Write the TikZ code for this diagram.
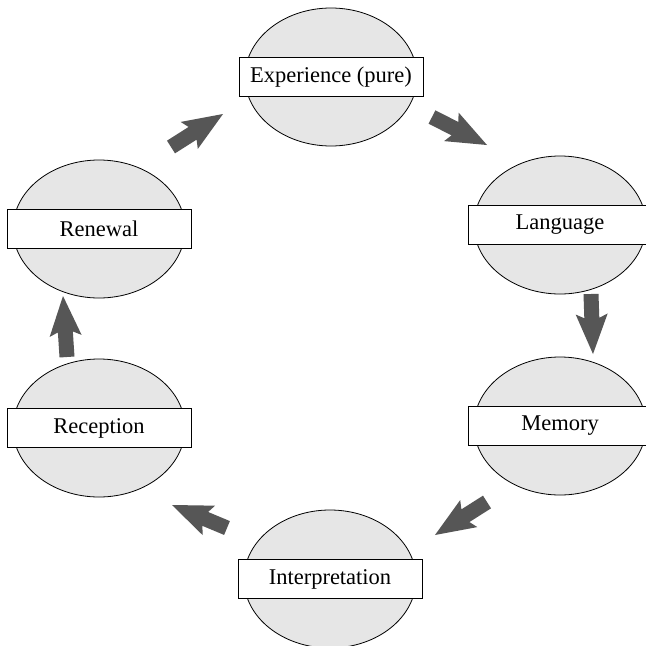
\documentclass[tikz,border=0pt]{standalone}
\usepackage{fontspec}
\setmainfont{Liberation Serif}
\usetikzlibrary{shapes.geometric,calc}
\definecolor{ellgray}{HTML}{E6E6E6}
\definecolor{arrowgray}{HTML}{565656}
\tikzset{
  oval/.style={ellipse, draw=black, line width=0.8pt, fill=ellgray, minimum width=172pt, minimum height=138pt, inner sep=0pt},
  labelbox/.style={draw=black, line width=1pt, fill=white, minimum width=184pt, minimum height=39pt, inner sep=0pt, font=\fontsize{22.5}{27}\selectfont},
  fatarrow/.style={fill=arrowgray, draw=none}
}
\newcommand\blockarrow[2]{%
  \path[fatarrow] (#2)
    -- ($(#2)!40pt!(#1)!16pt!90:(#1)$)
    -- ($(#2)!36pt!(#1)!7.5pt!90:(#1)$)
    -- ($(#1)!7.5pt!-90:(#2)$)
    -- ($(#1)!7.5pt!90:(#2)$)
    -- ($(#2)!36pt!(#1)!7.5pt!-90:(#1)$)
    -- ($(#2)!40pt!(#1)!16pt!-90:(#1)$)
    -- cycle;%
}
\begin{document}
\begin{tikzpicture}[x=1pt,y=-1pt]
\useasboundingbox (0,0) rectangle (646,646);
\fill[white] (0,0) rectangle (646,646);
% ellipses
\node[oval] (e1) at (331,77) {};
\node[oval] (e2) at (560,225) {};
\node[oval] (e3) at (560,426) {};
\node[oval] (e4) at (330,579) {};
\node[oval] (e5) at (99,428) {};
\node[oval] (e6) at (99,229) {};
% label boxes
\node[labelbox] (b1) at (e1.center) {Experience (pure)};
\node[labelbox] (b2) at (e2.center) {Language};
\node[labelbox] (b3) at (e3.center) {Memory};
\node[labelbox] (b4) at (e4.center) {Interpretation};
\node[labelbox] (b5) at (e5.center) {Reception};
\node[labelbox] (b6) at (e6.center) {Renewal};
% arrow ends
\coordinate (a1s) at (171,147); \coordinate (a1t) at (223,114);
\coordinate (a2s) at (432,117); \coordinate (a2t) at (487,145);
\coordinate (a3s) at (591,294); \coordinate (a3t) at (593,354);
\coordinate (a4s) at (487,502); \coordinate (a4t) at (435,535);
\coordinate (a5s) at (227,528); \coordinate (a5t) at (172,505);
\coordinate (a6s) at (67,357);  \coordinate (a6t) at (63,296);
\blockarrow{a1s}{a1t}
\blockarrow{a2s}{a2t}
\blockarrow{a3s}{a3t}
\blockarrow{a4s}{a4t}
\blockarrow{a5s}{a5t}
\blockarrow{a6s}{a6t}
\end{tikzpicture}
\end{document}
